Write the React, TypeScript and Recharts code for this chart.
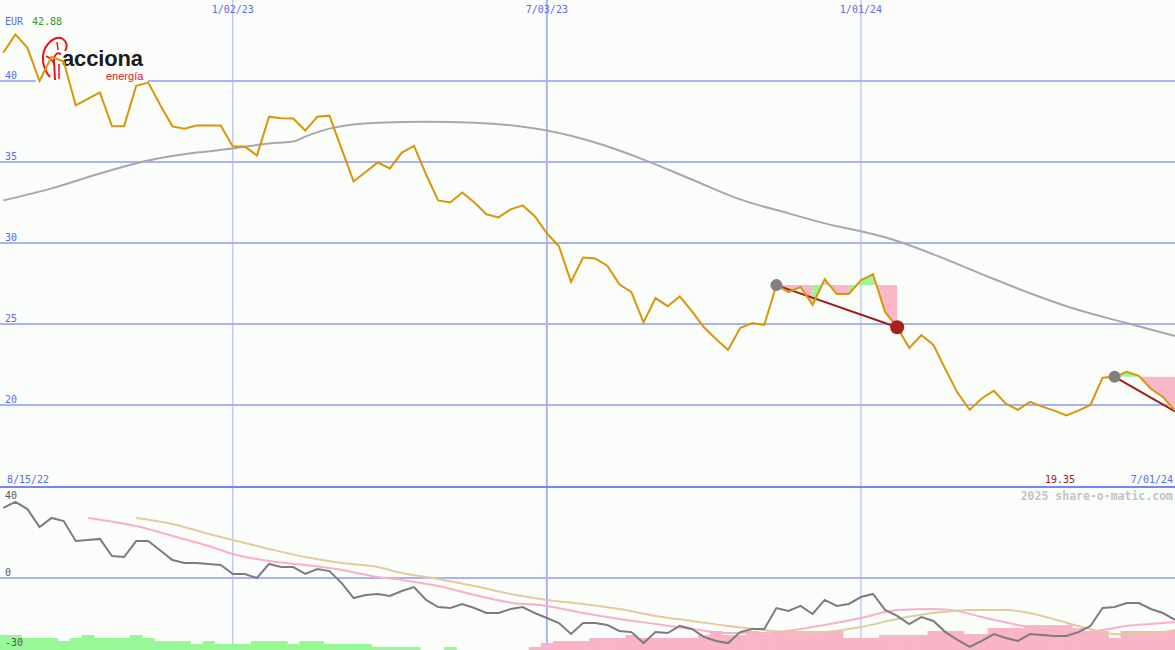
import React from 'react';
import {
  ComposedChart, Line, Area, Bar, Cell, XAxis, YAxis, CartesianGrid, ReferenceArea, Customized,
} from 'recharts';

// weeks counted from 8/15/22
const weeks = Array.from({ length: 98 }, (_, i) => i + 1);

const dateTicks = [20, 46, 72];
const dateLabels = ['1/02/23', '7/03/23', '1/01/24'];
const priceTicks = [20, 25, 30, 35, 40];
const oscTicks = [-30, 0, 40];

// weekly close, EUR
const price = [
  41.74, 42.88, 42.05, 40.0, 41.5, 41.2, 38.5, 38.9, 39.3, 37.2,
  37.2, 39.7, 39.9, 38.5, 37.2, 37.05, 37.25, 37.25, 37.25, 35.95,
  35.95, 35.4, 37.8, 37.7, 37.68, 36.94, 37.8, 37.86, 35.83, 33.8,
  34.38, 34.97, 34.6, 35.58, 36.0, 34.23, 32.63, 32.5, 33.12, 32.5,
  31.77, 31.58, 32.08, 32.32, 31.65, 30.6, 29.8, 27.6, 29.1, 29.05,
  28.6, 27.45, 26.97, 25.1, 26.6, 26.1, 26.7, 25.8, 24.8, 24.08,
  23.4, 24.75, 25.06, 24.94, 27.4, 26.97, 27.28, 26.17, 27.77, 26.85,
  26.85, 27.7, 28.08, 25.74, 24.82, 23.52, 24.32, 23.71, 22.2, 20.75,
  19.7, 20.4, 20.88, 20.08, 19.7, 20.2, 19.9, 19.65, 19.35, 19.65,
  20.0, 21.68, 21.74, 22.05, 21.8, 21.0, 20.5, 19.65,
];

// long moving average (grey)
const maWeeks = [1, 5, 9, 13, 17, 20, 23, 25, 26, 28, 32, 36, 40, 44, 46, 50, 54, 58, 62, 66, 70, 72, 74, 78, 82, 86, 90, 94, 98];
const maValues = [32.63, 33.37, 34.29, 35.09, 35.58, 35.83, 36.14, 36.26, 36.57, 37.06, 37.43, 37.49, 37.43, 37.18, 36.94, 36.2, 35.15, 33.92, 32.69, 31.83, 31.03, 30.72, 30.35, 29.3, 28.08, 26.9, 25.86, 25.06, 24.26];

// stop bands: level held from start week, segment colours g/p
const bandStart = [65, 93];
const bandLevel = [27.4, 21.74];
const bandSegments = [
  ['p', 'p', 'p', 'g', 'p', 'p', 'g', 'g', 'p', 'p'],
  ['g', 'g', 'p', 'p', 'p'],
];

// trend lines
const trendStart = [65, 93];
const trendEnd = [75, 98];
const trendStartVal = [27.4, 21.74];
const trendEndVal = [24.8, 19.6];
const trendClosed = [true, false];

// lower panel oscillator
const osc = [
  36.4, 39.5, 35.8, 26.5, 31.2, 29.6, 19.2, 19.7, 20.3, 11.4,
  10.9, 19.2, 19.2, 14.3, 9.35, 7.8, 7.8, 7.3, 6.75, 2.1,
  2.1, 0, 7.3, 5.7, 5.7, 2.1, 4.7, 3.6, -2.5, -10.4,
  -8.8, -8.3, -9.35, -6.75, -4.7, -11.4, -15.1, -15.6, -13.5, -15.6,
  -18.2, -18.2, -16.1, -15.1, -18.2, -20.8, -23.4, -29.1, -23.4, -23.4,
  -24.4, -27.5, -28.1, -33.8, -28.1, -28.6, -24.9, -26.5, -30.6, -32.7,
  -33.8, -28.1, -26.5, -26.5, -15.6, -17.1, -14.5, -18.7, -11.4, -14.5,
  -13.5, -9.9, -8.3, -16.6, -19.7, -23.9, -20.3, -22.3, -28.1, -32.2,
  -35.8, -32.7, -29.1, -31.2, -32.7, -29.1, -29.6, -30.1, -30.1, -28.1,
  -24.9, -15.6, -15.1, -13.0, -13.0, -16.1, -18.2, -21.8,
];

const pinkWeeks = [8, 12, 15, 18, 20, 23, 26, 29, 32, 34, 37, 40, 43, 46, 49, 52, 55, 58, 61, 63, 65, 68, 72, 75, 78, 80, 82, 85, 88, 90, 92, 94, 96, 98];
const pinkValues = [31.2, 27.0, 21.8, 16.6, 12.5, 8.8, 6.75, 4.2, 0.5, -1.0, -4.2, -8.8, -12.8, -14.5, -18.2, -21.3, -23.9, -26.5, -28.6, -28.6, -28.1, -25.5, -20.8, -16.6, -16.1, -17.1, -20.3, -24.4, -27.5, -28.6, -27.0, -24.9, -23.9, -22.9];

const tanWeeks = [12, 15, 18, 20, 23, 26, 29, 32, 34, 37, 40, 43, 46, 49, 52, 55, 58, 61, 64, 67, 70, 72, 75, 78, 81, 84, 87, 90, 93, 95, 98];
const tanValues = [31.2, 28.1, 22.9, 19.7, 15.1, 10.9, 7.8, 5.7, 2.6, -0.5, -4.2, -8.3, -11.4, -13.5, -16.1, -19.7, -22.3, -24.9, -27.0, -28.6, -27.5, -25.5, -21.3, -18.2, -16.6, -16.6, -19.7, -24.9, -29.1, -29.6, -27.0];

// histogram: + green, - pink
const histo = [
  15, 15, 12, 12, 12, 9, 12, 15, 12, 12,
  12, 15, 12, 9, 9, 9, 6, 9, 6, 6,
  6, 9, 9, 9, 6, 9, 9, 6, 6, 6,
  6, 3, 3, 3, 3, 0, 0, 3, 0, 0,
  0, 0, 0, 0, -3, -7, -9, -9, -9, -12,
  -12, -12, -15, -12, -12, -12, -12, -12, -15, -19,
  -15, -15, -19, -16, -19, -19, -19, -19, -19, -19,
  -12, -12, -12, -15, -15, -15, -15, -19, -19, -19,
  -16, -16, -22, -22, -22, -25, -25, -25, -25, -22,
  -19, -19, -12, -19, -19, -19, -19, -19,
];

const BG = '#fbfdfb';
const GRID = '#a8b2f4';
const BLUE = '#5a6aec';
const MONO = '"DejaVu Sans Mono", monospace';
const X_DOMAIN: [number, number] = [0.728, 98];
const LOW_DOMAIN: [number, number] = [-37.4, 46.75];

// build rows
const rows: any[] = weeks.map((wk, i) => ({
  wk,
  price: price[i],
  osc: osc[i],
  histo: Math.abs(histo[i]),
}));
const rowOf = (wk: number) => rows[wk - 1];
maWeeks.forEach((w, i) => { rowOf(w).ma = maValues[i]; });
pinkWeeks.forEach((w, i) => { rowOf(w).pinkMa = pinkValues[i]; });
tanWeeks.forEach((w, i) => { rowOf(w).tanMa = tanValues[i]; });
trendStart.forEach((s, i) => {
  rowOf(s)[`trend${i}`] = trendStartVal[i];
  rowOf(trendEnd[i])[`trend${i}`] = trendEndVal[i];
});

const bandRuns: { key: string; color: string }[] = [];
bandSegments.forEach((segs, b) => {
  let from = 0;
  for (let s = 1; s <= segs.length; s++) {
    if (s === segs.length || segs[s] !== segs[from]) {
      const key = `band${bandRuns.length}`;
      for (let k = from; k <= s; k++) {
        const r = rowOf(bandStart[b] + k);
        r[key] = [bandLevel[b], r.price];
      }
      bandRuns.push({ key, color: segs[from] === 'g' ? '#98f898' : '#f9b8c8' });
      from = s;
    }
  }
});

const vLine = (p: any) => (
  <line key={`v${p.index}`} x1={p.x1} x2={p.x2} y1={p.y1} y2={p.y2} stroke={GRID} strokeWidth={p.index === 1 ? 2 : 1} />
);

const DateTick = ({ x, payload }: any) => (
  <text x={x} y={13} textAnchor="middle" fontFamily={MONO} fontSize={10} fill={BLUE}>
    {dateLabels[dateTicks.indexOf(payload.value)]}
  </text>
);

const PriceTick = ({ y, payload }: any) => (
  <text x={5} y={y - 2} fontFamily={MONO} fontSize={10} fill={BLUE}>{payload.value}</text>
);

const OscTick = ({ y, payload }: any) => (
  <text x={5} y={payload.value < 0 ? y + 10 : y - 2} fontFamily={MONO} fontSize={10} fill="#555">{payload.value}</text>
);

const HistoBar = (p: any) => (
  <rect x={p.x} y={p.y} width={p.width + 0.6} height={p.height} fill={p.fill} />
);

const Logo = () => (
  <g>
    <rect x={36} y={30} width={112} height={55} fill={BG} />
    <path d="M50 77 C42 68 40 53 48 44 C52 39 58 36 63 39 C67 42 68 47 65 51" stroke="#e8141c" strokeWidth={2} fill="none" />
    <path d="M55 80 L54 60 C54 55 57 52 61 54" stroke="#e8141c" strokeWidth={2} fill="none" />
    <path d="M59 79 L59 64 M46 56 C50 58 53 60 54 64 M57 42 L58 50" stroke="#e8141c" strokeWidth={1.5} fill="none" />
    <text x={62} y={65.5} fontFamily="'Liberation Sans', Arial, sans-serif" fontWeight={700} fontSize={22} fill="#1c1c1c" textLength={81}>acciona</text>
    <text x={106} y={80} fontFamily="'Liberation Sans', Arial, sans-serif" fontSize={11} fill="#e8141c">energía</text>
  </g>
);

const TopLabels = () => (
  <g fontFamily={MONO} fontSize={10}>
    <text x={5} y={25} fill={BLUE}>EUR</text>
    <text x={32} y={25} fill="#2a9a2a">42.88</text>
    <text x={7} y={483} fill={BLUE}>8/15/22</text>
    <text x={1060} y={483} textAnchor="middle" fill="#a01818">19.35</text>
    <text x={1173} y={483} textAnchor="end" fill={BLUE}>7/01/24</text>
  </g>
);

const Watermark = () => (
  <text x={1173} y={12} textAnchor="end" fontFamily={MONO} fontWeight={700} fontSize={11.5} fill="#c4c4c4">
    2025 share-o-matic.com
  </text>
);

const trendDot = (i: number) => (p: any) => {
  const k = `td${i}-${p.index}`;
  if (p.cx == null || p.payload[`trend${i}`] == null) return <g key={k} />;
  if (p.payload.wk === trendStart[i]) return <circle key={k} cx={p.cx} cy={p.cy} r={6} fill="#808080" />;
  if (trendClosed[i]) return <circle key={k} cx={p.cx} cy={p.cy} r={7} fill="#a82020" />;
  return <g key={k} />;
};

export default function App() {
  return (
    <div style={{ position: 'absolute', left: 0, top: 0, width: 1175, height: 650, background: BG, overflow: 'hidden' }}>
      <ComposedChart width={1175} height={486} data={rows} margin={{ top: 0, right: 0, bottom: 0, left: 0 }}>
        <CartesianGrid stroke={GRID} strokeWidth={2} vertical={vLine} fill="none" syncWithTicks />
        <XAxis dataKey="wk" type="number" domain={X_DOMAIN} ticks={dateTicks} orientation="top" mirror
          axisLine={false} tickLine={false} tick={DateTick} allowDataOverflow />
        <YAxis type="number" domain={[15, 45]} ticks={priceTicks} mirror axisLine={false} tickLine={false}
          tick={PriceTick} allowDataOverflow />
        <ReferenceArea x1={3.7} x2={13} y1={39.75} y2={43} shape={Logo} ifOverflow="visible" />
        {bandRuns.map((r) => (
          <Area key={r.key} dataKey={r.key} type="linear" stroke="none" fill={r.color} fillOpacity={1}
            isAnimationActive={false} activeDot={false} />
        ))}
        <Line dataKey="ma" type="monotone" stroke="#a8a8a8" strokeWidth={2} dot={false} activeDot={false}
          connectNulls isAnimationActive={false} />
        {trendStart.map((_, i) => (
          <Line key={`trend${i}`} dataKey={`trend${i}`} type="linear" stroke="#a01c1c" strokeWidth={2}
            dot={trendDot(i)} activeDot={false} connectNulls isAnimationActive={false} />
        ))}
        <Line dataKey="price" type="linear" stroke="#d8960a" strokeWidth={2} dot={false} activeDot={false}
          isAnimationActive={false} />
        <Customized component={TopLabels} />
      </ComposedChart>
      <div style={{ height: 2, background: '#7886ec' }} />
      <ComposedChart width={1175} height={162} data={rows} margin={{ top: 0, right: 0, bottom: 0, left: 0 }}>
        <CartesianGrid yAxisId="gridY" stroke={GRID} strokeWidth={2} vertical={vLine} fill="none" syncWithTicks />
        <XAxis dataKey="wk" type="number" domain={X_DOMAIN} ticks={dateTicks} hide allowDataOverflow />
        <YAxis yAxisId="gridY" type="number" domain={LOW_DOMAIN} ticks={[0]} hide allowDataOverflow />
        <YAxis yAxisId="osc" type="number" domain={LOW_DOMAIN} ticks={oscTicks} mirror axisLine={false}
          tickLine={false} tick={OscTick} allowDataOverflow />
        <YAxis yAxisId="bars" type="number" domain={[0, 162]} hide />
        <Bar yAxisId="bars" dataKey="histo" barSize={12} shape={HistoBar} isAnimationActive={false}>
          {histo.map((v, i) => <Cell key={i} fill={v >= 0 ? '#98f898' : '#f9b4c8'} />)}
        </Bar>
        <Line yAxisId="osc" dataKey="pinkMa" type="monotone" stroke="#f8b0c8" strokeWidth={2} dot={false}
          activeDot={false} connectNulls isAnimationActive={false} />
        <Line yAxisId="osc" dataKey="tanMa" type="monotone" stroke="#e2cb9e" strokeWidth={2} dot={false}
          activeDot={false} connectNulls isAnimationActive={false} />
        <Line yAxisId="osc" dataKey="osc" type="linear" stroke="#7c7c7c" strokeWidth={2} dot={false}
          activeDot={false} isAnimationActive={false} />
        <Customized component={Watermark} />
      </ComposedChart>
    </div>
  );
}
